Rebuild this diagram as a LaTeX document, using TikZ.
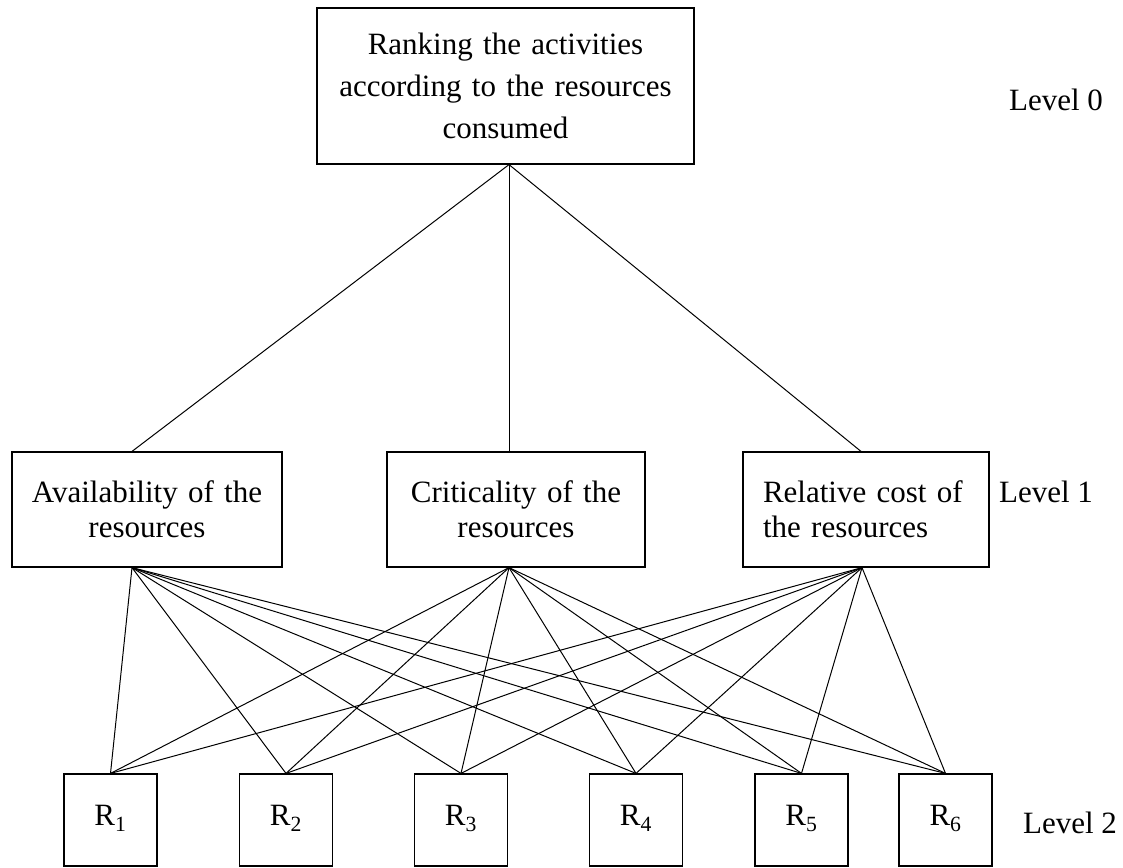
\documentclass[tikz,border=0pt]{standalone}
\usepackage{fontspec}
\setmainfont{Liberation Serif}
\begin{document}
\begin{tikzpicture}[x=1pt,y=-1pt,
  box/.style={draw, line width=1.2pt, inner sep=0pt, align=center, font=\fontsize{31}{35}\selectfont},
  rbox/.style={draw, line width=1.2pt, inner sep=0pt, minimum width=93pt, minimum height=92pt, font=\fontsize{31}{35}\selectfont},
  conn/.style={line width=1pt},
  lvl/.style={inner sep=0pt, font=\fontsize{31}{35}\selectfont}]
\useasboundingbox[fill=white] (0,0) rectangle (1123,867);
% Level 0
\node[box, minimum width=377pt, minimum height=156pt, text width=377pt, font=\fontsize{31}{42}\selectfont] (top) at (505.5,86) {Ranking the activities\\according to the resources\\consumed};
\node[lvl] (l0) at (1056,100) {Level 0};
% Level 1
\node[box, minimum width=270pt, minimum height=115pt, text width=270pt] (A) at (147,509.5) {Availability of the\\resources};
\node[box, minimum width=258pt, minimum height=115pt, text width=258pt] (C) at (516,509.5) {Criticality of the\\resources};
\node[box, minimum width=246pt, minimum height=115pt, text width=206pt, align=left] (Rc) at (866,509.5) {Relative cost of\\the resources};
\node[lvl] (l1) at (1046,492) {Level 1};
% Level 2
\foreach \i/\x in {1/110.5,2/286,3/461,4/636,5/801.5,6/945.5}
  \node[rbox] (R\i) at (\x,820) {\raisebox{9pt}{R\textsubscript{\i}}};
\node[lvl] (l2) at (1070,823) {Level 2};
% connectors level 0 - level 1
\draw[conn] ([xshift=3.5pt]top.south) -- ([xshift=-15pt]A.north);
\draw[conn] ([xshift=3.5pt]top.south) -- ([xshift=-7pt]C.north);
\draw[conn] ([xshift=3.5pt]top.south) -- ([xshift=-5pt]Rc.north);
% connectors level 1 - level 2
\foreach \i in {1,...,6} {
  \draw[conn] ([xshift=-15pt]A.south) -- (R\i.north);
  \draw[conn] ([xshift=-7pt]C.south) -- (R\i.north);
  \draw[conn] ([xshift=-4pt]Rc.south) -- (R\i.north);
}
\end{tikzpicture}
\end{document}
